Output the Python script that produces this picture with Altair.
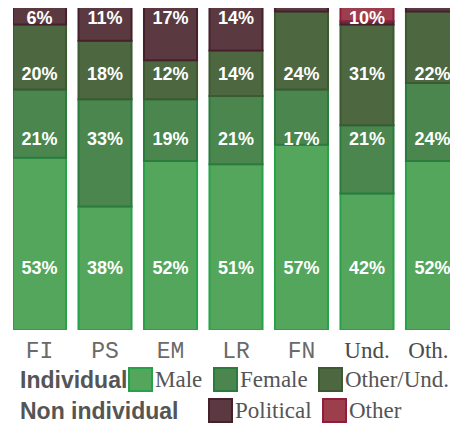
import altair as alt
import pandas as pd

# ---- data ----
categories = ["FI", "PS", "EM", "LR", "FN", "Und.", "Oth."]
male = [53, 38, 52, 51, 57, 42, 52]
female = [21, 33, 19, 21, 17, 21, 24]
other_und = [20, 18, 12, 14, 24, 31, 22]
political = [6, 11, 17, 14, 2, 1, 2]
other = [0, 0, 0, 0, 0, 5, 0]
other_text = ["", "", "", "", "", "10%", ""]

ind_series = ["Male", "Female", "Other/Und."]
non_series = ["Political", "Other"]

# ---- style ----
ind_fill = ["#53a65b", "#4a864e", "#4d6740"]
ind_stroke = ["#27a24a", "#2b7b3f", "#3b5a31"]
non_fill = ["#5a3a40", "#9d3e4d"]
non_stroke = ["#46202c", "#8f1d3c"]
label_row = {"Male": 18.8, "Female": 58.5, "Other/Und.": 78.5, "Political": 95.8, "Other": 95.8}

series_vals = {"Male": male, "Female": female, "Other/Und.": other_und,
               "Political": political, "Other": other}
order = ind_series + non_series
rows = []
for s in order:
    for i, c in enumerate(categories):
        v = series_vals[s][i]
        if s == "Other":
            txt = other_text[i]
        else:
            txt = f"{v}%" if v >= 5 else ""
        rows.append({"cat": c, "series": s, "value": v, "order": order.index(s),
                     "group": "ind" if s in ind_series else "non",
                     "label": txt, "label_y": label_row[s]})
df = pd.DataFrame(rows)

serif_test = "datum.value == 'Und.' || datum.value == 'Oth.'"
x_enc = alt.X("cat:N", sort=categories,
              scale=alt.Scale(paddingInner=0.19, paddingOuter=0, range=[0, 446]),
              axis=alt.Axis(title=None, labelAngle=0, domain=False, ticks=False, tickSize=0,
                            labelPadding=9, labelFontSize=23,
                            labelOffset={"condition": {"test": "datum.value == 'Oth.'", "value": -4},
                                         "value": 0},
                            labelFont={"condition": {"test": serif_test, "value": "Liberation Serif"},
                                       "value": "Liberation Mono"},
                            labelColor={"condition": {"test": serif_test, "value": "#4a4a4a"},
                                        "value": "#6a6a6a"}))
y_scale = alt.Scale(domain=[0, 100], nice=False)

base = alt.Chart(df).transform_stack(
    stack="value", as_=["y0", "y1"], groupby=["cat"],
    sort=[alt.SortField("order", order="ascending")])


def make_legend(title, x, y, tpad, n):
    return alt.Legend(title=title, orient="none", legendX=x, legendY=y,
                      direction="horizontal", columns=n, titleOrient="left",
                      titlePadding=tpad, titleFont="Liberation Sans", titleFontSize=23,
                      titleFontWeight="bold", titleColor="#555555", titleBaseline="middle",
                      titleAnchor="middle",
                      labelFont="Liberation Serif", labelFontSize=23, labelColor="#555555",
                      labelOffset=2, columnPadding=7, symbolType="square", symbolSize=529,
                      symbolStrokeWidth=2, symbolOpacity=1, padding=0,
                      labelExpr="datum.label == 'Female' ? 'Female\u00a0\u00a0' : datum.label")


legA = make_legend("Individual", 7, 362, 0, 3)
legB = make_legend("Non individual", 7, 393, 29, 2)

ind = base.transform_filter(alt.datum.group == "ind").mark_bar(
    strokeWidth=2, opacity=1, clip=True).encode(
    x=x_enc,
    y=alt.Y("y0:Q", scale=y_scale, axis=None),
    y2="y1:Q",
    fill=alt.Fill("series:N", scale=alt.Scale(domain=ind_series, range=ind_fill), legend=legA),
    stroke=alt.Stroke("series:N", scale=alt.Scale(domain=ind_series, range=ind_stroke), legend=legA),
)
non = base.transform_filter(alt.datum.group == "non").mark_bar(
    strokeWidth=2, opacity=1, clip=True).encode(
    x=x_enc,
    y=alt.Y("y0:Q", scale=y_scale, axis=None),
    y2="y1:Q",
    fill=alt.Fill("series:N", scale=alt.Scale(domain=non_series, range=non_fill), legend=legB),
    stroke=alt.Stroke("series:N", scale=alt.Scale(domain=non_series, range=non_stroke), legend=legB),
)
text = alt.Chart(df).transform_filter(alt.datum.label != "").mark_text(
    font="Liberation Sans", fontWeight="bold", fontSize=18, color="white",
    align="center", baseline="middle").encode(
    x=alt.X("cat:N", sort=categories),
    y=alt.Y("label_y:Q", scale=y_scale, axis=None),
    text="label:N",
)

chart = alt.layer(ind, non, text).resolve_scale(
    fill="independent", stroke="independent"
).properties(
    width=437, height=325,
    padding={"left": 5, "top": -3, "right": 0, "bottom": 98},
    autosize=alt.AutoSizeParams(type="none"),
).configure_view(stroke=None)

chart.save("out.html", embed_options={"renderer": "svg", "actions": False})
